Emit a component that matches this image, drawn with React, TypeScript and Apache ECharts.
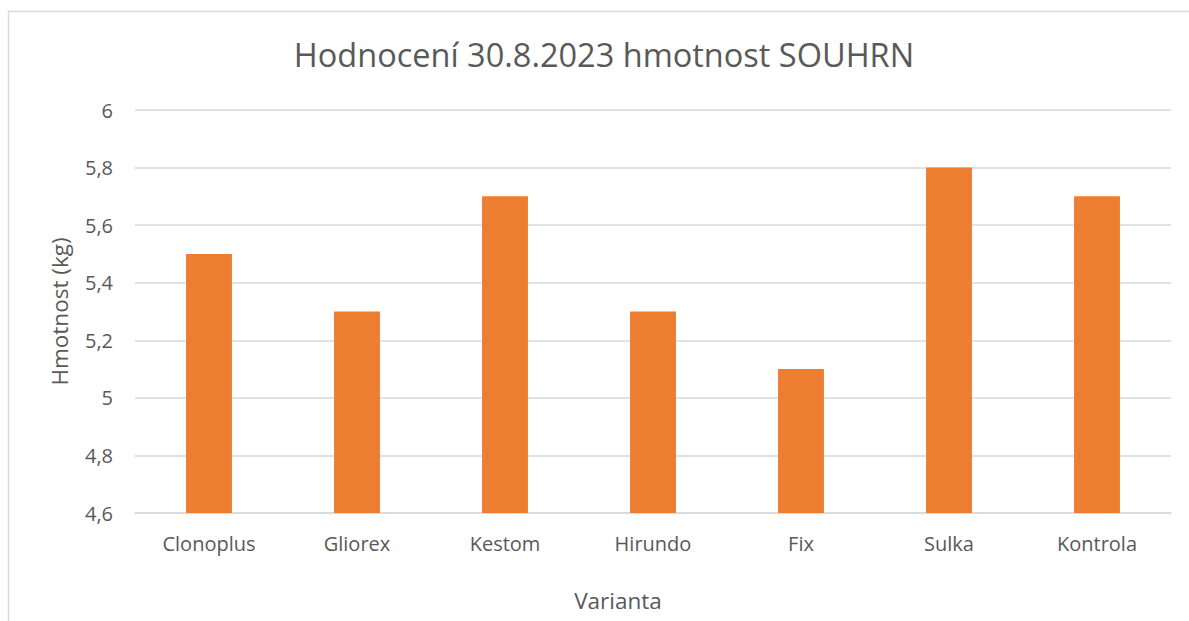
import React, { useEffect, useRef } from "react";
import * as echarts from "echarts";

const categories = ["Clonoplus", "Gliorex", "Kestom", "Hirundo", "Fix", "Sulka", "Kontrola"];
const values = [5.5, 5.3, 5.7, 5.3, 5.1, 5.8, 5.7];
const titleText = "Hodnocení 30.8.2023 hmotnost SOUHRN";
const yAxisName = "Hmotnost (kg)";
const xAxisName = "Varianta";

const FONT = "'Open Sans', 'Noto Sans', sans-serif";

export default function App() {
  const ref = useRef<HTMLDivElement>(null);
  useEffect(() => {
    document.body.style.margin = "0";
    const chart = echarts.init(ref.current!, null, { renderer: "svg" });
    chart.setOption({
      animation: false,
      backgroundColor: "#ffffff",
      title: {
        text: titleText,
        left: 599,
        textAlign: "center",
        top: 33,
        textStyle: { fontFamily: FONT, fontSize: 32.5, fontWeight: "normal", color: "#595959" },
      },
      graphic: [
        {
          type: "rect",
          shape: { x: 8.5, y: 11.5, width: 1300, height: 800 },
          style: { fill: "none", stroke: "#d9d9d9", lineWidth: 1.5 },
          silent: true,
        },
      ],
      grid: { left: 135, right: 18, top: 110, bottom: 108, containLabel: false },
      xAxis: {
        type: "category",
        data: categories,
        name: xAxisName,
        nameLocation: "middle",
        nameGap: 76,
        nameTextStyle: { fontFamily: FONT, fontSize: 22.5, color: "#595959", padding: [0, 70, 0, 0] },
        axisLine: { show: true, lineStyle: { color: "#d9d9d9", width: 1.5 } },
        axisTick: { show: false },
        axisLabel: { fontFamily: FONT, fontSize: 20, color: "#595959", margin: 20 },
      },
      yAxis: {
        type: "value",
        min: 4.6,
        max: 6,
        interval: 0.2,
        name: yAxisName,
        nameLocation: "middle",
        nameGap: 64,
        nameTextStyle: { fontFamily: FONT, fontSize: 22.5, color: "#595959" },
        axisLine: { show: false },
        axisTick: { show: false },
        splitLine: { lineStyle: { color: "#d9d9d9", width: 1.5 } },
        axisLabel: {
          fontFamily: FONT,
          fontSize: 20,
          color: "#595959",
          margin: 22,
          formatter: (v: number) => String(Math.round(v * 10) / 10).replace(".", ","),
        },
      },
      series: [
        {
          type: "bar",
          data: values,
          barWidth: "31%",
          itemStyle: { color: "#ed7d31" },
        },
      ],
    });
    return () => chart.dispose();
  }, []);
  return <div ref={ref} style={{ width: 1189, height: 621 }} />;
}
